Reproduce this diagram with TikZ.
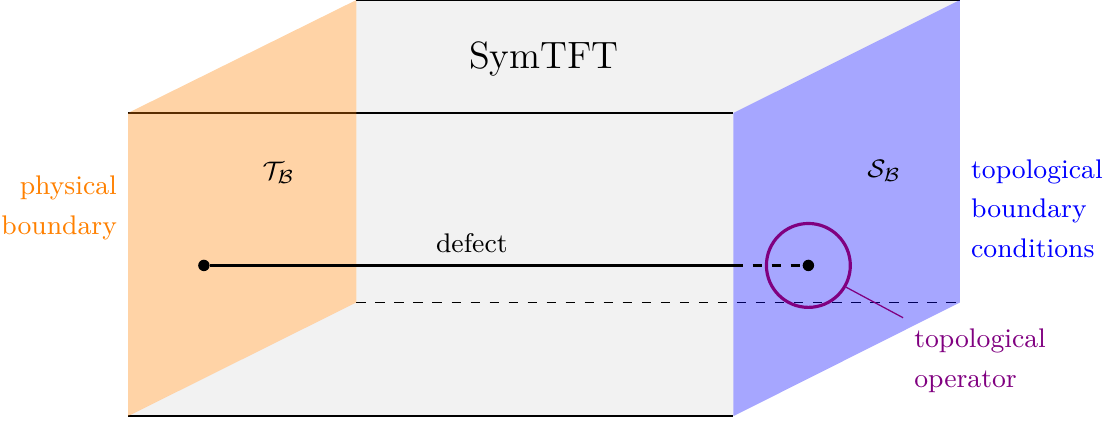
\documentclass[tikz,border=0pt]{standalone}
\usepackage{amsmath}
\usetikzlibrary{positioning}
\definecolor{opPurple}{HTML}{800080}
\tikzset{
  dot/.style={circle, fill=black, inner sep=0pt, minimum size=3.6pt},
  face/.style={fill opacity=0.35},
  lbl/.style={font=\fontsize{8.5}{12.5}\selectfont},
}

\begin{document}
\begin{tikzpicture}[line width=0.4pt]
  \useasboundingbox (-1.42,-0.044) rectangle (10.85,4.612);
  % Corners of the box
  \coordinate (FBL) at (0,0);
  \coordinate (FBR) at (6.71,0);
  \coordinate (FTL) at (0,3.36);
  \coordinate (FTR) at (6.71,3.36);
  \coordinate (BBL) at (2.53,1.26);
  \coordinate (BBR) at (9.22,1.26);
  \coordinate (BTL) at (2.53,4.612);
  \coordinate (BTR) at (9.22,4.612);

  % Bulk
  \fill[black!5] (FBL) -- (FBR) -- (FTR) -- (BTR) -- (BTL) -- (BBL) -- cycle;
  \draw (FTL) -- (FTR);
  \draw (FBL) -- (FBR);
  \draw (BTL) -- (BTR);
  \draw[dashed] (BBL) -- (BBR);

  % Boundaries
  \fill[orange, face] (FBL) -- (FTL) -- (BTL) -- (BBL) -- cycle;
  \fill[blue, face] (FBR) -- (FTR) -- (BTR) -- (BBR) -- cycle;

  % Nodes
  \node (sym) at (4.61,3.96) {\large SymTFT};
  \node[lbl] (TB) at (1.67,2.70) {$\mathcal{T}_{\mathcal{B}}$};
  \node[lbl] (SB) at (8.38,2.72) {$\mathcal{S}_{\mathcal{B}}$};
  \node[lbl, orange, align=right, anchor=east] (phys) at (0,2.31) {physical\\boundary};
  \node[lbl, blue, align=left, anchor=west] (topbc) at (9.22,2.30) {topological\\boundary\\conditions};

  % Defect
  \node[dot] (start) at (0.84,1.67) {};
  \node[dot] (end) at (7.54,1.67) {};
  \coordinate (wall) at (6.71,1.67);
  \draw[line width=1pt] (start) -- node[lbl, midway, above] (def) {defect} (wall);
  \draw[line width=1pt, dashed] (wall) -- (end);

  % Topological operator
  \node[draw=opPurple, circle, line width=1pt, minimum size=0.93cm] (op) at (end) {};
  \node[lbl, opPurple, align=left, anchor=north west] (oplabel) at (8.59,1.09) {topological\\operator};
  \draw[opPurple] (op.-30) -- (oplabel.north west);

\end{tikzpicture}
\end{document}
